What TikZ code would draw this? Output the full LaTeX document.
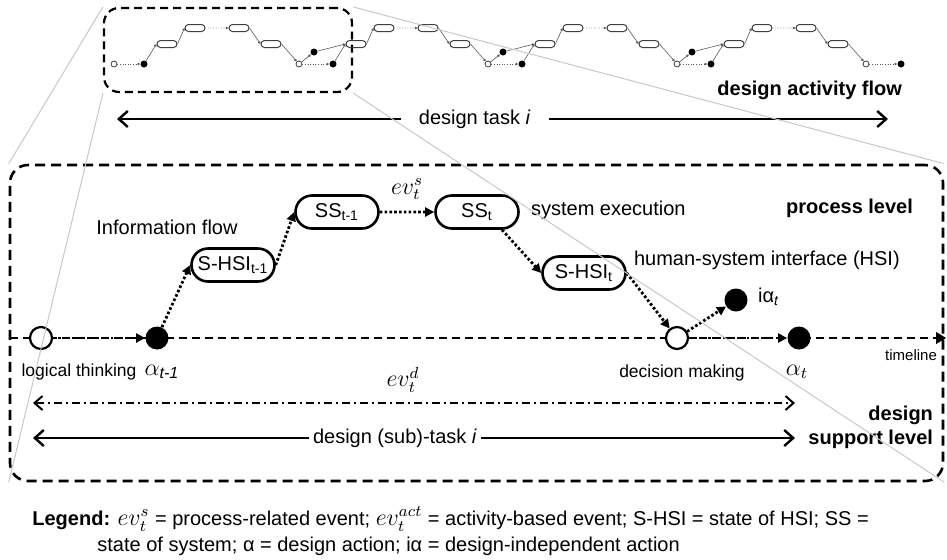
\documentclass[tikz,border=0pt]{standalone}
\usepackage{amsmath}
\usepackage{fontspec}
\setmainfont{Liberation Sans}
\usetikzlibrary{arrows.meta,shapes.misc}
\definecolor{dafGrey}{HTML}{5A5A5A}
\definecolor{dafZoom}{HTML}{C8C8C8}
\newcommand{\smallfont}{\fontsize{8.75}{10.5}\selectfont}
\newcommand{\tinyfont}{\fontsize{7.5}{9}\selectfont}
\newcommand{\mathfont}{\fontsize{11.5}{13}\selectfont}
\newcommand{\evt}[1]{{\mathfont$ev_t^{#1}$}}
\tikzset{
  statebox/.style={rounded rectangle,draw,line width=1.3pt,minimum width=43.5pt,
                   minimum height=16.5pt,inner sep=1pt},
  evopen/.style={circle,draw,line width=1.1pt,fill=white,minimum size=11pt,inner sep=0pt},
  evfill/.style={circle,fill,minimum size=11.5pt,inner sep=0pt},
  flow/.style={line width=1.4pt,dash pattern=on 1.3pt off 1.1pt,
               -{Triangle[length=4.5pt,width=4.5pt]}},
  minibox/.style={rounded rectangle,draw=black!75,line width=0.5pt,minimum width=10pt,
                  minimum height=3.5pt,inner sep=0pt},
  miniopen/.style={circle,draw=black!75,line width=0.4pt,fill=white,minimum size=3pt,inner sep=0pt},
  minifill/.style={circle,fill,minimum size=3.5pt,inner sep=0pt},
  miniflow/.style={draw=dafGrey,line width=0.3pt,-{Triangle[length=1.3pt,width=1.3pt]}},
  minidot/.style={miniflow,densely dotted},
  win/.style={draw,line width=1.1pt,dash pattern=on 4pt off 2.5pt,rounded corners=7.5pt,
              minimum width=124pt,minimum height=42pt,inner sep=0pt},
  lvl/.style={draw,line width=1.3pt,dash pattern=on 5pt off 3pt,rounded corners=9pt,
              minimum width=466.5pt,minimum height=158pt,inner sep=0pt},
  tline/.style={line width=0.6pt,dash pattern=on 4pt off 2.5pt,-{Triangle[length=5pt,width=6pt]}},
  taskspan/.style={line width=1.2pt,{Straight Barb[length=4.5pt,width=8pt]}-{Straight Barb[length=4.5pt,width=8pt]}},
  taskdd/.style={line width=1pt,dash pattern=on 4pt off 2pt on 1pt off 2pt,
                 {Straight Barb[length=4pt,width=7pt]}-{Straight Barb[length=4pt,width=7pt]}},
  zoomline/.style={draw=dafZoom,line width=0.5pt},
}

\begin{document}
\begin{tikzpicture}[x=0.5pt,y=-0.5pt]
  \useasboundingbox (0,0) rectangle (947,559);
  % --- overview: design activity flow
  \node[win] (win) at (228,50) {};
  \node[miniopen] (mo0) at (114,64) {};
  \node[minifill] (mf-0) at (144,64) {};
  \draw[minidot] (mo0) -- (mf-0);
  \foreach \k [evaluate=\k as \f using 144+189*\k, evaluate=\k as \n using int(\k+1),
               evaluate=\k as \p using int(\k-1)] in {0,...,3}{
    \node[minibox] (mb1-\k) at (\f+23,44) {};
    \node[minibox] (mb2-\k) at (\f+51,28) {};
    \node[minibox] (mb3-\k) at (\f+95,28) {};
    \node[minibox] (mb4-\k) at (\f+127,44) {};
    \node[miniopen] (mo-\k) at (\f+155,64) {};
    \draw[miniflow] (mf-\k) -- (mb1-\k.west);
    \draw[miniflow] (mb1-\k.east) -- (mb2-\k.west);
    \draw[minidot] (mb2-\k) -- (mb3-\k);
    \draw[miniflow] (mb3-\k.east) -- (mb4-\k.west);
    \draw[miniflow] (mb4-\k.east) -- (mo-\k);
    \ifnum\k<3
      \node[minifill] (ms-\k) at (\f+170,52) {};
      \node[minifill] (mf-\n) at (\f+189,64) {};
      \draw[miniflow] (mo-\k) -- (ms-\k);
      \draw[minidot] (mo-\k) -- (mf-\n);
    \else
      \node[minifill] (mf-\n) at (\f+190,64) {};
      \draw[minidot] (mo-\k) -- (mf-\n);
    \fi
    \ifnum\k>0 \draw[miniflow] (ms-\p) -- (mb1-\k.west); \fi
  }
  \node[anchor=east,font=\bfseries] (dafl) at (909,90) {design activity flow};
  \coordinate (dtl) at (117,119);
  \coordinate (dtr) at (888,119);
  \draw[taskspan] (dtl) -- node[pos=0.464,fill=white,inner xsep=9pt] (dtask) {design task \textit{i}} (dtr);

  % --- zoomed sub-task
  \node[lvl] (lvl) at (476.5,323) {};
  \node[anchor=east,font=\bfseries] (plev) at (920,208) {process level};
  \node[anchor=east,font=\bfseries,align=right] (slev) at (940,427) {design\\support level};
  \coordinate (tl0) at (10,338);
  \coordinate (tl1) at (946,338);
  \draw[tline] (tl0) -- (tl1);
  \node[font=\tinyfont] (tlab) at (911,355) {timeline};

  \node[evopen] (lt) at (41,338) {};
  \node[evfill] (a0) at (157,338) {};
  \node[statebox] (hsi0) at (233,265) {S-HSI\textsubscript{t-1}};
  \node[statebox] (ss0) at (337,212) {SS\textsubscript{t-1}};
  \node[statebox] (ss1) at (477,212) {SS\textsubscript{t}};
  \node[statebox] (hsi1) at (584,273) {S-HSI\textsubscript{t}};
  \node[evopen] (dm) at (677,338) {};
  \node[evfill] (ia) at (736,300) {};
  \node[evfill] (a1) at (799,338) {};

  \draw[flow] (lt) -- (a0);
  \draw[flow] (a0) -- (hsi0.west);
  \draw[flow] (hsi0.east) -- (ss0.west);
  \draw[flow] (ss0) -- node[above=2pt] (evs) {\evt{s}} (ss1);
  \draw[flow] (ss1.south east) -- (hsi1.west);
  \draw[flow] (hsi1.east) -- (dm);
  \draw[flow] (dm) -- (ia);
  \draw[flow] (dm) -- (a1);

  \node (iflow) at (167,227) {Information flow};
  \node[anchor=west] (sysx) at (524,210) {system execution};
  \node[anchor=west] (hsil) at (627,260) {human-system interface (HSI)};
  \node[anchor=west] (ialab) at (751,297) {iα\textsubscript{\textit{t}}};
  \node[font=\smallfont] (ltl) at (79,372) {logical thinking};
  \node[font=\mathfont] (a0l) at (162,372) {$\alpha_{\textit{t-1}}$};
  \node (evd) at (403,380) {\evt{d}};
  \node[font=\smallfont] (dml) at (682,373) {decision making};
  \node[font=\mathfont] (a1l) at (797,372) {$\alpha_t$};

  \coordinate (ddl) at (33,403);
  \coordinate (ddr) at (795,403);
  \draw[taskdd] (ddl) -- (ddr);
  \coordinate (stl) at (33,438);
  \coordinate (str) at (795,438);
  \draw[taskspan] (stl) -- node[pos=0.475,fill=white,inner xsep=2pt] (stask) {design (sub)-task \textit{i}} (str);

  % --- legend
  \node[anchor=west,inner sep=0pt] (leg1) at (32,519)
    {\textbf{Legend:} \evt{s} = process-related event; \evt{act} = activity-based event; S-HSI = state of HSI; SS =};
  \node[anchor=west,inner sep=0pt] (leg2) at (97,546)
    {state of system; α = design action; iα = design-independent action};

  % --- zoom lines
  \draw[zoomline] (win.north west) -- (lvl.north west);
  \draw[zoomline] (win.south west) -- (lvl.south west);
  \draw[zoomline] (win.north east) -- (lvl.north east);
  \draw[zoomline] (win.south east) -- (lvl.south east);
\end{tikzpicture}
\end{document}
